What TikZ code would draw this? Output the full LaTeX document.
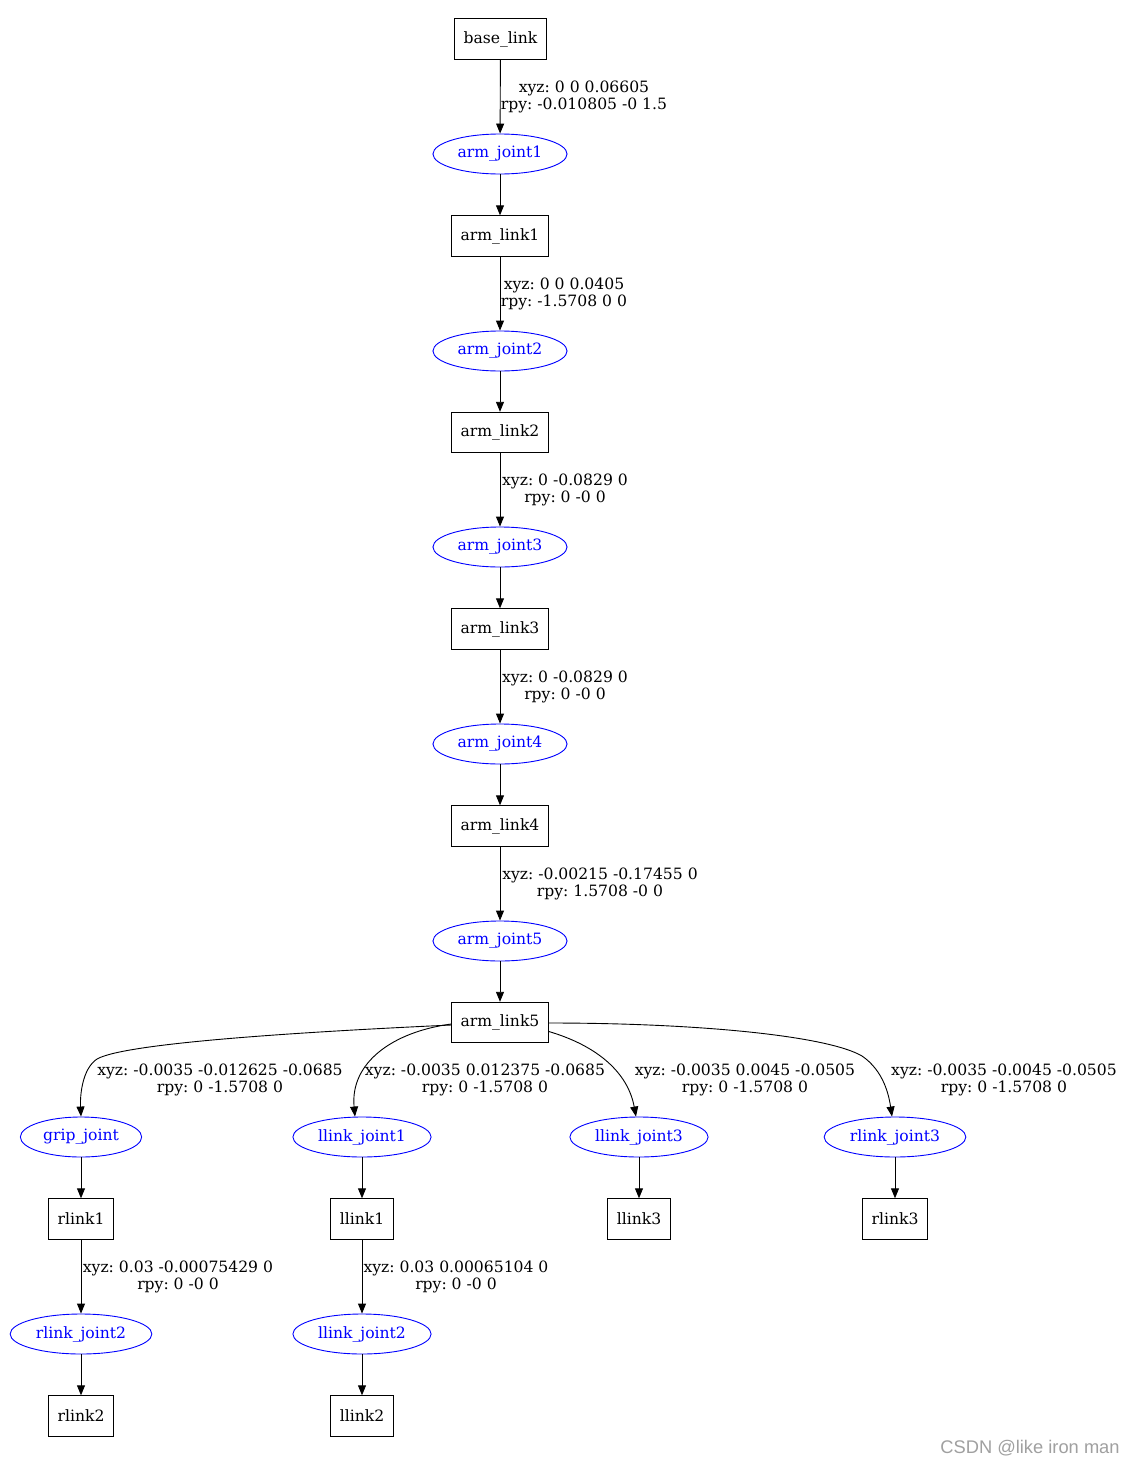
\documentclass[tikz,border=0pt]{standalone}
\usepackage{fontspec}
\setmainfont{DejaVu Serif}
\newfontfamily\wmfont{Liberation Sans}
\usetikzlibrary{arrows.meta,shapes.geometric}
\definecolor{jblue}{RGB}{0,0,255}
\definecolor{wmgray}{RGB}{160,160,160}
\frenchspacing
\begin{document}
\begin{tikzpicture}[x=1pt,y=-1pt,
  every node/.style={font=\fontsize{15.6}{17}\selectfont},
  linkbox/.style={draw=black,line width=0.9pt,rectangle,minimum height=40.5pt,inner xsep=9pt,inner ysep=2pt},
  jointell/.style={draw=jblue,text=jblue,line width=0.9pt,ellipse,minimum height=40pt,inner xsep=5pt,inner ysep=1pt},
  edge/.style={draw=black,line width=0.9pt,-{Triangle[length=10pt,width=8pt]}},
  lbl/.style={align=center,inner sep=0pt}]
\useasboundingbox (0,0) rectangle (1134,1464);
\fill[white] (0,0) rectangle (1134,1464);
% nodes
\node[linkbox] (base) at (500.5,39) {base\_link};
\node[jointell] (j1) at (500,154) {arm\_joint1};
\node[linkbox] (l1) at (500,236) {arm\_link1};
\node[jointell] (j2) at (500,351) {arm\_joint2};
\node[linkbox] (l2) at (500,432.5) {arm\_link2};
\node[jointell] (j3) at (500,547) {arm\_joint3};
\node[linkbox] (l3) at (500,629) {arm\_link3};
\node[jointell] (j4) at (500,744) {arm\_joint4};
\node[linkbox] (l4) at (500,826) {arm\_link4};
\node[jointell] (j5) at (500,941) {arm\_joint5};
\node[linkbox] (l5) at (500,1022.5) {arm\_link5};
\node[jointell] (gj) at (81,1137) {grip\_joint};
\node[jointell] (lj1) at (362,1137) {llink\_joint1};
\node[jointell] (lj3) at (639,1137) {llink\_joint3};
\node[jointell] (rj3) at (895,1137) {rlink\_joint3};
\node[linkbox] (rl1) at (81,1219) {rlink1};
\node[linkbox] (ll1) at (362,1219) {llink1};
\node[linkbox] (ll3) at (639,1219) {llink3};
\node[linkbox] (rl3) at (895,1219) {rlink3};
\node[jointell] (rj2) at (81,1334) {rlink\_joint2};
\node[jointell] (lj2) at (362,1334) {llink\_joint2};
\node[linkbox] (rl2) at (81,1416) {rlink2};
\node[linkbox] (ll2) at (362,1416) {llink2};
% edge labels
\node[lbl] (t1) at (584,96.5) {xyz: 0 0 0.06605\\rpy: -0.010805 -0 1.5};
\node[lbl] (t2) at (564,293.5) {xyz: 0 0 0.0405\\rpy: -1.5708 0 0};
\node[lbl] (t3) at (565,490) {xyz: 0 -0.0829 0\\rpy: 0 -0 0};
\node[lbl] (t4) at (565,686.5) {xyz: 0 -0.0829 0\\rpy: 0 -0 0};
\node[lbl] (t5) at (600,883.5) {xyz: -0.00215 -0.17455 0\\rpy: 1.5708 -0 0};
\node[lbl] (tg) at (220,1079.5) {xyz: -0.0035 -0.012625 -0.0685\\rpy: 0 -1.5708 0};
\node[lbl] (tl1) at (485,1079.5) {xyz: -0.0035 0.012375 -0.0685\\rpy: 0 -1.5708 0};
\node[lbl] (tl3) at (745,1079.5) {xyz: -0.0035 0.0045 -0.0505\\rpy: 0 -1.5708 0};
\node[lbl] (tr3) at (1004,1079.5) {xyz: -0.0035 -0.0045 -0.0505\\rpy: 0 -1.5708 0};
\node[lbl] (tr2) at (178,1276.5) {xyz: 0.03 -0.00075429 0\\rpy: 0 -0 0};
\node[lbl] (tl2) at (456,1276.5) {xyz: 0.03 0.00065104 0\\rpy: 0 -0 0};
% straight edges
\draw[edge] (base) -- (j1);
\draw[edge] (j1) -- (l1);
\draw[edge] (l1) -- (j2);
\draw[edge] (j2) -- (l2);
\draw[edge] (l2) -- (j3);
\draw[edge] (j3) -- (l3);
\draw[edge] (l3) -- (j4);
\draw[edge] (j4) -- (l4);
\draw[edge] (l4) -- (j5);
\draw[edge] (j5) -- (l5);
\draw[edge] (gj) -- (rl1);
\draw[edge] (rl1) -- (rj2);
\draw[edge] (rj2) -- (rl2);
\draw[edge] (lj1) -- (ll1);
\draw[edge] (ll1) -- (lj2);
\draw[edge] (lj2) -- (ll2);
\draw[edge] (lj3) -- (ll3);
\draw[edge] (rj3) -- (rl3);
% curved edges from arm_link5
\coordinate (g1) at (97,1059);
\coordinate (r1) at (862,1056);
\draw[edge] (l5.west |- 0,1025) .. controls (300,1032) and (125,1043) .. (g1)
  .. controls (82,1069) and (80,1096) .. (gj.north);
\draw[edge] (l5.west |- 0,1024) .. controls (392,1032) and (350,1063) .. (lj1.north -| 355,0);
\draw[edge] (l5.east |- 0,1031.5) .. controls (598,1046) and (628,1073) .. (lj3.north -| 636,0);
\draw[edge] (l5.east |- 0,1023) .. controls (700,1023) and (828,1036) .. (r1)
  .. controls (884,1071) and (889,1096) .. (rj3.north -| 892,0);
% watermark
\node[font=\wmfont\fontsize{18.3}{20}\selectfont,text=wmgray,inner sep=0pt] (wm) at (1030,1448) {CSDN @like iron man};
\end{tikzpicture}
\end{document}
